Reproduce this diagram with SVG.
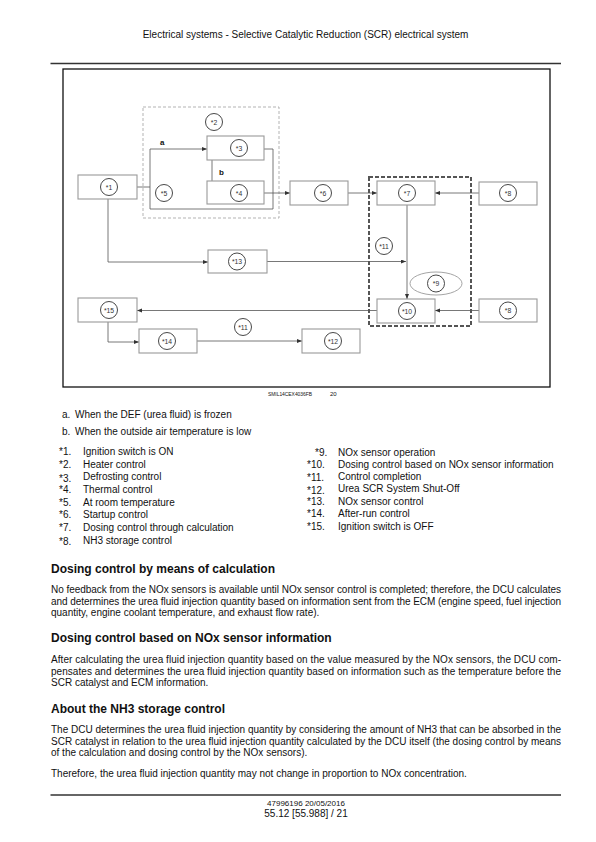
<svg xmlns="http://www.w3.org/2000/svg" width="596" height="842" viewBox="0 0 596 842">
<defs>
<marker id="ah" markerUnits="userSpaceOnUse" markerWidth="6" markerHeight="5" refX="5" refY="2" orient="auto">
<path d="M0,0 L5,2 L0,4 z" fill="#333"/>
</marker>
<style>
text{font-family:"Liberation Sans",Arial,sans-serif;fill:#111}
.box{fill:#fff;stroke:#9a9a9a;stroke-width:1.1}
.cir{fill:#fff;stroke:#333;stroke-width:0.9}
.lbl{font-size:6.8px;text-anchor:middle;fill:#333}
.con{fill:none;stroke:#555;stroke-width:0.8}
.arr{marker-end:url(#ah)}
.t10{font-size:10px}
.h{font-size:12px;font-weight:bold}
.rule{stroke:#333;stroke-width:1.3}
</style>
</defs>
<rect width="596" height="842" fill="#fff"/>
<text x="305.5" y="38.3" class="t10" text-anchor="middle">Electrical systems - Selective Catalytic Reduction (SCR) electrical system</text>
<line x1="50.5" y1="63.5" x2="561" y2="63.5" class="rule"/>
<rect x="63" y="69" width="487" height="318" fill="none" stroke="#111" stroke-width="1.3"/>

<rect id="grp2" x="143" y="107" width="136" height="111" fill="none" stroke="#aaa" stroke-width="0.9" stroke-dasharray="3,2"/>
<rect id="grpdose" x="369" y="177" width="102" height="149" fill="none" stroke="#555" stroke-width="2" stroke-dasharray="4,2"/>

<g id="connectors">
<path class="con" d="M137,187 H150"/>
<path class="con arr" d="M150,209 V149 H207"/>
<path class="con" d="M150,209 H273 V149 H264"/>
<path class="con" d="M212,160 V181"/>
<path class="con arr" d="M264,193 H290"/>
<path class="con arr" d="M348,193 H377"/>
<path class="con arr" d="M479,193 H435"/>
<path class="con arr" d="M407,205 V299"/>
<path class="con arr" d="M108,199 V262 H208"/>
<path class="con arr" d="M267,261.5 H406"/>
<path class="con arr" d="M479,310.5 H435"/>
<path class="con arr" d="M377,310.5 H137"/>
<path class="con arr" d="M108,322 V342 H139"/>
<path class="con arr" d="M197,341 H302"/>
</g>

<g id="n1"><rect class="box" x="78" y="175" width="59" height="24"/><circle class="cir" cx="109" cy="187" r="8.5"/><text class="lbl" x="109" y="189.5">*1</text></g>
<g id="n2"><circle class="cir" cx="214" cy="122" r="8.5"/><text class="lbl" x="214" y="124.5">*2</text></g>
<g id="n3"><rect class="box" x="207" y="136" width="57" height="24"/><circle class="cir" cx="239" cy="148" r="8.5"/><text class="lbl" x="239" y="150.5">*3</text></g>
<g id="n4"><rect class="box" x="207" y="181" width="57" height="23"/><circle class="cir" cx="239" cy="193" r="8.5"/><text class="lbl" x="239" y="195.5">*4</text></g>
<g id="n5"><circle class="cir" cx="164" cy="193" r="8.5"/><text class="lbl" x="164" y="195.5">*5</text></g>
<text x="160" y="145" font-size="8" font-weight="bold">a</text>
<text x="219" y="175" font-size="8" font-weight="bold">b</text>
<g id="n6"><rect class="box" x="290" y="181" width="58" height="24"/><circle class="cir" cx="323" cy="193" r="8.5"/><text class="lbl" x="323" y="195.5">*6</text></g>
<g id="n7"><rect class="box" x="377" y="181" width="58" height="24"/><circle class="cir" cx="407" cy="193" r="8.5"/><text class="lbl" x="407" y="195.5">*7</text></g>
<g id="n8a"><rect class="box" x="479" y="182" width="58" height="23"/><circle class="cir" cx="508" cy="193" r="8.5"/><text class="lbl" x="508" y="195.5">*8</text></g>
<g id="n11a"><circle class="cir" cx="384" cy="246" r="8.5"/><text class="lbl" x="384" y="248.5">*11</text></g>
<g id="n9"><ellipse cx="436" cy="283.5" rx="26" ry="11.5" fill="#fff" stroke="#9a9a9a" stroke-width="0.9"/><circle class="cir" cx="436" cy="283.5" r="8.5"/><text class="lbl" x="436" y="286">*9</text></g>
<g id="n10"><rect class="box" x="377" y="299" width="58" height="24"/><circle class="cir" cx="407" cy="311" r="8.5"/><text class="lbl" x="407" y="313.5">*10</text></g>
<g id="n8b"><rect class="box" x="479" y="299" width="58" height="23"/><circle class="cir" cx="508" cy="310.5" r="8.5"/><text class="lbl" x="508" y="313">*8</text></g>
<g id="n13"><rect class="box" x="208" y="250" width="59" height="23"/><circle class="cir" cx="237" cy="261.5" r="8.5"/><text class="lbl" x="237" y="264">*13</text></g>
<g id="n15"><rect class="box" x="78" y="298" width="59" height="24"/><circle class="cir" cx="109" cy="310" r="8.5"/><text class="lbl" x="109" y="312.5">*15</text></g>
<g id="n14"><rect class="box" x="139" y="329" width="58" height="24"/><circle class="cir" cx="167" cy="341" r="8.5"/><text class="lbl" x="167" y="343.5">*14</text></g>
<g id="n11b"><circle class="cir" cx="243" cy="327" r="8.5"/><text class="lbl" x="243" y="329.5">*11</text></g>
<g id="n12"><rect class="box" x="302" y="329" width="58" height="24"/><circle class="cir" cx="333" cy="341" r="8.5"/><text class="lbl" x="333" y="343.5">*12</text></g>

<text x="268" y="396" font-size="5" textLength="44" lengthAdjust="spacingAndGlyphs">SMIL14CEX4036FB</text>
<text x="330" y="396" font-size="6">20</text>

<g class="t10">
<text x="62" y="418.3">a.</text><text x="75" y="418.3">When the DEF (urea fluid) is frozen</text>
<text x="62" y="435">b.</text><text x="75" y="435">When the outside air temperature is low</text>
<text x="59" y="455">*1.</text><text x="83" y="455">Ignition switch is ON</text>
<text x="59" y="467.5">*2.</text><text x="83" y="467.5">Heater control</text>
<text x="59" y="481.5">*3.</text><text x="83" y="480">Defrosting control</text>
<text x="59" y="492.5">*4.</text><text x="83" y="492.5">Thermal control</text>
<text x="59" y="505.5">*5.</text><text x="83" y="505.5">At room temperature</text>
<text x="59" y="518">*6.</text><text x="83" y="518">Startup control</text>
<text x="59" y="531">*7.</text><text x="83" y="531">Dosing control through calculation</text>
<text x="59" y="545">*8.</text><text x="83" y="543.5">NH3 storage control</text>
<text x="315" y="455.5">*9.</text><text x="338" y="455.5">NOx sensor operation</text>
<text x="307" y="467.5">*10.</text><text x="338" y="467.5">Dosing control based on NOx sensor information</text>
<text x="307" y="481">*11.</text><text x="338" y="479.5">Control completion</text>
<text x="307" y="493.5">*12.</text><text x="338" y="492">Urea SCR System Shut-Off</text>
<text x="307" y="504.5">*13.</text><text x="338" y="504.5">NOx sensor control</text>
<text x="307" y="517">*14.</text><text x="338" y="517">After-run control</text>
<text x="307" y="529.5">*15.</text><text x="338" y="529.5">Ignition switch is OFF</text>
</g>

<text x="51" y="572.7" class="h">Dosing control by means of calculation</text>
<g class="t10">
<text x="51" y="593.3" textLength="510" lengthAdjust="spacing">No feedback from the NOx sensors is available until NOx sensor control is completed; therefore, the DCU calculates</text>
<text x="51" y="604.5" textLength="510" lengthAdjust="spacing">and determines the urea fluid injection quantity based on information sent from the ECM (engine speed, fuel injection</text>
<text x="51" y="615.5">quantity, engine coolant temperature, and exhaust flow rate).</text>
</g>
<text x="51" y="642.3" class="h">Dosing control based on NOx sensor information</text>
<g class="t10">
<text x="51" y="663.3" textLength="510" lengthAdjust="spacing">After calculating the urea fluid injection quantity based on the value measured by the NOx sensors, the DCU com-</text>
<text x="51" y="674.5" textLength="510" lengthAdjust="spacing">pensates and determines the urea fluid injection quantity based on information such as the temperature before the</text>
<text x="51" y="685.7">SCR catalyst and ECM information.</text>
</g>
<text x="51" y="712.7" class="h">About the NH3 storage control</text>
<g class="t10">
<text x="51" y="733.3" textLength="510" lengthAdjust="spacing">The DCU determines the urea fluid injection quantity by considering the amount of NH3 that can be absorbed in the</text>
<text x="51" y="744.5" textLength="510" lengthAdjust="spacing">SCR catalyst in relation to the urea fluid injection quantity calculated by the DCU itself (the dosing control by means</text>
<text x="51" y="755.5">of the calculation and dosing control by the NOx sensors).</text>
<text x="51" y="777.3">Therefore, the urea fluid injection quantity may not change in proportion to NOx concentration.</text>
</g>
<line x1="50.5" y1="795" x2="561" y2="795" class="rule"/>
<text x="306" y="806" font-size="8" text-anchor="middle">47996196 20/05/2016</text>
<text x="306" y="816.7" class="t10" text-anchor="middle">55.12 [55.988] / 21</text>
</svg>
